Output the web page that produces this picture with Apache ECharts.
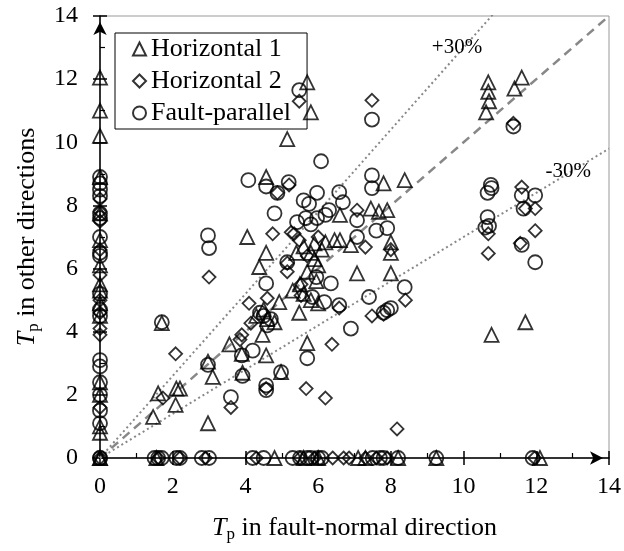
<!DOCTYPE html>
<html>
<head>
<meta charset="utf-8">
<script src="https://cdn.jsdelivr.net/npm/echarts@6/dist/echarts.min.js"></script>
<style>
  html, body { margin: 0; padding: 0; background: #fff; }
  #chart { width: 624px; height: 551px; }
</style>
</head>
<body>
<div id="chart"></div>
<script>
// Tp in fault-normal direction (x) vs Tp in other directions (y)
const horizontal1 = [
  [0, 12.05], [0, 11.0], [0, 10.2], [0, 8.9], [0, 7.75], [0, 6.9], [0, 6.1], [0, 5.5], [0, 5.3], [0, 4.9],
  [0, 4.5], [0, 2.4], [0, 2.0], [0, 1.0], [0, 0.8], [0, 0], [0, 0],
  [1.55, 0], [4.8, 0], [5.6, 0], [6.0, 0], [7.1, 0], [7.3, 0], [8.2, 0], [9.25, 0], [12.1, 0],
  [5.7, 11.9], [5.8, 10.95], [5.15, 10.1], [4.57, 8.9], [4.05, 7.0], [4.57, 6.5], [4.38, 6.05],
  [10.68, 11.9], [10.68, 11.6], [10.7, 11.3], [10.62, 10.95], [11.6, 12.05], [11.4, 11.7],
  [8.38, 8.8], [7.8, 8.7], [6.6, 7.7], [7.45, 7.9], [7.67, 7.8], [7.9, 7.85], [8.0, 6.83], [8.0, 6.5],
  [6.2, 6.83], [6.45, 6.9], [6.6, 6.9], [6.9, 6.74], [7.07, 5.85], [8.0, 5.85], [11.7, 4.3], [10.77, 3.9],
  [5.6, 6.7], [5.8, 6.5], [5.9, 6.3], [6.0, 6.1], [5.7, 5.9], [5.5, 5.5], [5.6, 5.2], [5.8, 5.0],
  [6.0, 4.9], [5.3, 5.3], [4.93, 4.94], [5.48, 4.6], [4.47, 3.9], [5.7, 3.64], [3.9, 3.3], [4.57, 3.25],
  [3.92, 2.7], [4.98, 2.72], [3.56, 3.6], [2.97, 3.05], [3.1, 2.57], [2.97, 1.1], [1.46, 1.3], [1.6, 2.05],
  [2.1, 2.2], [2.2, 2.2], [2.08, 1.68], [1.7, 4.27], [4.3, 4.5], [4.6, 4.4], [4.8, 4.3], [4.5, 4.7],
  [5.4, 6.5], [5.9, 6.8], [6.1, 6.6], [5.95, 5.6]
];
const horizontal2 = [
  [0, 8.2], [0, 7.8], [0, 7.5], [0, 6.6], [0, 5.8], [0, 5.0], [0, 4.6], [0, 4.1], [0, 3.9], [0, 1.6], [0, 0],
  [1.6, 0], [2.2, 0], [2.9, 0], [4.3, 0], [5.5, 0], [5.9, 0], [6.4, 0], [6.7, 0], [6.85, 0], [7.3, 0],
  [7.6, 0], [7.9, 0], [11.95, 0],
  [5.48, 11.3], [7.48, 11.33], [11.37, 10.6], [4.88, 8.4], [5.2, 8.65], [4.75, 7.1], [5.26, 7.15],
  [5.48, 6.9], [5.34, 7.1], [7.07, 7.85], [7.3, 6.68], [8.0, 6.6], [3.0, 5.73], [5.15, 6.17],
  [11.6, 8.58], [11.7, 7.9], [11.97, 7.9], [11.97, 7.2], [11.56, 6.8], [10.68, 7.1], [10.68, 6.48],
  [8.17, 0.92], [5.67, 2.2], [6.2, 1.9], [6.38, 3.6], [7.48, 4.5], [7.8, 4.55], [8.4, 5.0], [6.58, 4.75],
  [4.1, 4.9], [4.6, 5.06], [5.53, 5.5], [5.53, 5.15], [5.15, 5.9], [4.15, 4.27], [3.9, 3.9], [3.85, 3.75],
  [2.08, 3.3], [1.73, 1.9], [3.6, 1.6], [4.57, 2.2], [5.7, 6.4], [6.0, 7.0]
];
const faultParallel = [
  [0, 8.9], [0, 8.7], [0, 8.5], [0, 8.3], [0, 7.75], [0, 7.6], [0, 7.0], [0, 6.5], [0, 6.4], [0, 5.2],
  [0, 4.7], [0, 4.5], [0, 3.1], [0, 2.9], [0, 2.4], [0, 2.0], [0, 1.5], [0, 1.1], [0, 0], [0, 0],
  [1.5, 0], [1.6, 0], [1.7, 0], [2.1, 0], [2.2, 0], [2.8, 0], [3.0, 0], [4.2, 0], [4.5, 0], [5.3, 0],
  [5.5, 0], [5.7, 0], [5.8, 0], [6.0, 0], [6.1, 0], [7.5, 0], [7.7, 0], [7.8, 0], [8.2, 0], [9.25, 0], [11.9, 0],
  [5.48, 11.65], [7.48, 10.72], [11.37, 10.5], [6.08, 9.4], [4.08, 8.8], [4.57, 8.6], [5.19, 8.74],
  [4.88, 8.4], [5.6, 8.16], [5.75, 8.05], [5.97, 8.4], [4.8, 7.75], [5.42, 7.47], [5.66, 7.6], [5.8, 7.4],
  [5.97, 7.6], [6.3, 7.85], [7.48, 8.95], [7.48, 8.55], [6.58, 8.42], [6.68, 8.1], [6.2, 7.7], [7.07, 7.53],
  [7.9, 7.28], [7.6, 7.2], [7.07, 7.0], [10.75, 8.65], [10.77, 8.55], [10.66, 8.4], [11.6, 8.32],
  [11.97, 8.32], [11.65, 7.9], [11.6, 6.75], [11.97, 6.2], [10.66, 7.63], [10.6, 7.3], [10.7, 7.35],
  [2.97, 7.05], [3.0, 6.65], [5.15, 6.2], [1.7, 4.3], [4.57, 5.53], [5.95, 5.73], [6.35, 5.53],
  [5.84, 5.1], [6.17, 4.94], [6.58, 4.84], [7.4, 5.1], [8.38, 5.41], [7.8, 4.6], [7.9, 4.68], [8.0, 4.75],
  [6.9, 4.1], [5.7, 3.16], [4.2, 3.4], [3.9, 3.25], [3.92, 2.6], [4.98, 2.72], [4.57, 2.3], [4.57, 2.15],
  [3.6, 1.93], [2.97, 2.95], [4.4, 4.6], [4.5, 4.5], [4.7, 4.4], [4.6, 4.2]
];

const seriesNames = ["Horizontal 1", "Horizontal 2", "Fault-parallel"];
const axisMin = 0, axisMax = 14, axisStep = 2;
// ratio lines y = k * x
const ratioEqual = 1.0, ratioPlus = 1.3, ratioMinus = 0.7;

const serif = "Liberation Serif";
const chart = echarts.init(document.getElementById("chart"));

function ratioLine(k) {
  return [[0, 0], [axisMax, axisMax * k]];
}

function markerSeries(name, symbol, data, size) {
  return {
    name: name,
    type: "scatter",
    symbol: symbol,
    symbolSize: size,
    clip: false,
    z: 5,
    data: data,
    itemStyle: {
      color: "rgba(255,255,255,0)",
      borderColor: "#000",
      borderWidth: 1.8
    }
  };
}

const nameRich = {
  i: { fontFamily: serif, fontSize: 26, fontStyle: "italic", color: "#000" },
  s: { fontFamily: serif, fontSize: 17, color: "#000", padding: [12, 0, 0, 0] },
  n: { fontFamily: serif, fontSize: 26, color: "#000" }
};

function valueAxis(extra) {
  return Object.assign({
    type: "value",
    min: axisMin,
    max: axisMax,
    interval: axisStep,
    splitLine: { show: false },
    axisLine: {
      onZero: false,
      lineStyle: { color: "#000", width: 1.5 },
      symbol: ["none", "arrow"],
      symbolSize: [10, 13],
      symbolOffset: [0, -6]
    },
    axisTick: { show: true, inside: true, length: 7, lineStyle: { color: "#000", width: 1.5 } },
    minorTick: { show: true, splitNumber: 2, length: 5, lineStyle: { color: "#000", width: 1.2 } },
    axisLabel: { fontFamily: serif, fontSize: 24, color: "#000", margin: 17 }
  }, extra);
}

// second set of axes only draws the outer half of the major ticks
function outerTickAxis(pos) {
  return {
    type: "value",
    position: pos,
    min: axisMin,
    max: axisMax,
    interval: axisStep,
    splitLine: { show: false },
    axisLine: { show: false, onZero: false },
    axisTick: { show: true, inside: false, length: 7, lineStyle: { color: "#000", width: 1.5 } },
    axisLabel: { show: false }
  };
}

chart.setOption({
  animation: false,
  backgroundColor: "#fff",
  grid: {
    left: 100, right: 14, top: 16, bottom: 93,
    show: true, borderColor: "#999", borderWidth: 1, backgroundColor: "transparent"
  },
  legend: {
    data: seriesNames,
    orient: "vertical",
    left: 115,
    top: 33,
    itemWidth: 13,
    itemHeight: 13,
    itemGap: 6,
    padding: [3, 16, 3, 17],
    borderColor: "#000",
    borderWidth: 1,
    backgroundColor: "#fff",
    textStyle: { fontFamily: serif, fontSize: 26, color: "#000" }
  },
  xAxis: [
    valueAxis({
      position: "bottom",
      name: "{i|T}{s|p}{n| in fault-normal direction}",
      nameLocation: "middle",
      nameGap: 56,
      nameTextStyle: { rich: nameRich }
    }),
    outerTickAxis("bottom")
  ],
  yAxis: [
    valueAxis({
      position: "left",
      name: "{i|T}{s|p}{n| in other directions}",
      nameLocation: "middle",
      nameGap: 58,
      nameTextStyle: { rich: nameRich },
      axisLabel: { fontFamily: serif, fontSize: 24, color: "#000", margin: 22 }
    }),
    outerTickAxis("left")
  ],
  series: [
    {
      name: "1:1",
      type: "line",
      data: ratioLine(ratioEqual),
      symbol: "none",
      z: 2,
      lineStyle: { color: "#888", width: 2.5, type: [9, 6] }
    },
    {
      name: "+30%",
      type: "line",
      data: ratioLine(ratioPlus),
      symbol: "none",
      z: 2,
      lineStyle: { color: "#888", width: 2, type: [2, 3] },
      markPoint: {
        symbol: "circle", symbolSize: 0,
        label: { show: true, formatter: "+30%", fontFamily: serif, fontSize: 21, color: "#000" },
        data: [{ coord: [9.82, 13.0] }]
      }
    },
    {
      name: "-30%",
      type: "line",
      data: ratioLine(ratioMinus),
      symbol: "none",
      z: 2,
      lineStyle: { color: "#888", width: 2, type: [2, 3] },
      markPoint: {
        symbol: "circle", symbolSize: 0,
        label: { show: true, formatter: "-30%", fontFamily: serif, fontSize: 21, color: "#000" },
        data: [{ coord: [12.88, 9.08] }]
      }
    },
    markerSeries(seriesNames[0], "triangle", horizontal1, 14),
    markerSeries(seriesNames[1], "diamond", horizontal2, 13),
    markerSeries(seriesNames[2], "circle", faultParallel, 14)
  ]
});
</script>
</body>
</html>
